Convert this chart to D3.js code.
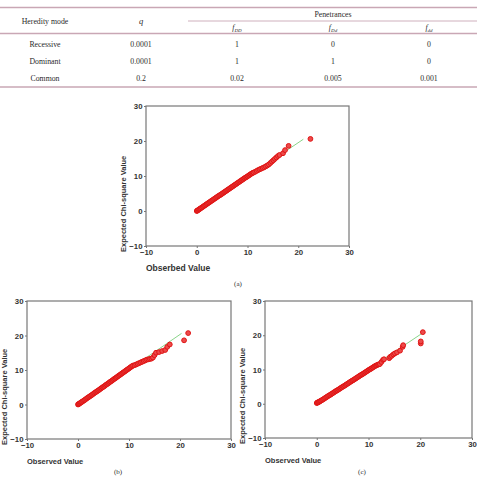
<!DOCTYPE html>
<html>
<head>
<meta charset="utf-8">
<script src="https://cdn.jsdelivr.net/npm/d3@7"></script>
<style>
  body { margin: 0; background: #fff; }
  svg { display: block; }
</style>
</head>
<body>
<script>
// table values
var columns = ["mode", "q", "fDD", "fDd", "fdd"];
var modes = ["Recessive", "Dominant", "Common"];
var qVals = ["0.0001", "0.0001", "0.2"];
var fDD = ["1", "1", "0.02"];
var fDd = ["0", "1", "0.005"];
var fdd = ["0", "0", "0.001"];

// axis ticks, same for all three plots
var ticks = [-10, 0, 10, 20, 30];

// [observed, expected] pairs
var qqA = [[0,0],[0.1,0.1],[0.2,0.2],[0.35,0.35],[0.5,0.5],[0.65,0.65],[0.8,0.8],[1,1],[1.2,1.2],[1.4,1.4],
  [1.6,1.6],[1.8,1.8],[2,2],[2.2,2.2],[2.4,2.4],[2.6,2.6],[2.8,2.8],[3,3],[3.2,3.2],[3.4,3.4],
  [3.6,3.6],[3.8,3.8],[4,4],[4.2,4.2],[4.4,4.4],[4.6,4.55],[4.8,4.75],[5,4.95],[5.2,5.15],[5.4,5.35],
  [5.6,5.55],[5.8,5.75],[6,5.95],[6.2,6.15],[6.4,6.35],[6.6,6.55],[6.8,6.75],[7,6.95],[7.2,7.15],[7.4,7.35],
  [7.6,7.55],[7.8,7.75],[8,7.95],[8.2,8.15],[8.4,8.35],[8.6,8.55],[8.8,8.75],[9,8.95],[9.2,9.15],[9.4,9.35],
  [9.6,9.55],[9.8,9.7],[10,9.9],[10.2,10.1],[10.4,10.3],[10.6,10.5],[10.8,10.7],[11,10.85],[11.2,11],[11.5,11.2],
  [11.8,11.45],[12.1,11.7],[12.4,11.9],[12.7,12.1],[13,12.3],[13.3,12.5],[13.6,12.75],[13.9,13],[14.2,13.3],[14.5,13.7],
  [14.8,14.1],[15.1,14.5],[15.4,14.9],[15.7,15.3],[16,15.7],[16.3,16],[17,16.5],[17.4,17.4],[18.1,18.6],[22.4,20.6]];
var qqB = [[0,0],[0.1,0.1],[0.2,0.2],[0.35,0.35],[0.5,0.5],[0.65,0.65],[0.8,0.8],[1,1],[1.2,1.2],[1.4,1.4],
  [1.6,1.65],[1.8,1.85],[2,2.05],[2.2,2.25],[2.4,2.45],[2.6,2.65],[2.8,2.85],[3,3.1],[3.2,3.3],[3.4,3.5],
  [3.6,3.7],[3.8,3.9],[4,4.1],[4.2,4.3],[4.4,4.55],[4.6,4.75],[4.8,4.95],[5,5.15],[5.2,5.35],[5.4,5.6],
  [5.6,5.8],[5.8,6],[6,6.2],[6.2,6.45],[6.4,6.65],[6.6,6.85],[6.8,7.05],[7,7.3],[7.2,7.5],[7.4,7.7],
  [7.6,7.9],[7.8,8.15],[8,8.35],[8.2,8.55],[8.4,8.75],[8.6,9],[8.8,9.2],[9,9.4],[9.2,9.6],[9.4,9.85],
  [9.6,10.05],[9.8,10.25],[10,10.45],[10.2,10.7],[10.4,10.9],[10.6,11.1],[10.8,11.3],[11.1,11.4],[11.4,11.6],[11.7,11.8],
  [12,12],[12.3,12.2],[12.6,12.4],[12.9,12.6],[13.2,12.8],[13.5,13],[13.8,13.1],[14.1,13.2],[14.4,13.3],[14.7,13.6],
  [15,14.3],[15.3,15],[15.9,15.2],[16.5,15.5],[17.1,15.8],[17.5,16.7],[18,17.4],[20.8,18.6],[21.6,20.7]];
var qqC = [[0,0.2],[0.1,0.3],[0.2,0.4],[0.35,0.5],[0.5,0.6],[0.65,0.75],[0.8,0.9],[1,1.05],[1.2,1.25],[1.4,1.45],
  [1.6,1.65],[1.8,1.85],[2,2.05],[2.2,2.25],[2.4,2.45],[2.6,2.6],[2.8,2.8],[3,3],[3.2,3.2],[3.4,3.4],
  [3.6,3.6],[3.8,3.8],[4,3.95],[4.2,4.15],[4.4,4.35],[4.6,4.55],[4.8,4.75],[5,4.95],[5.2,5.1],[5.4,5.3],
  [5.6,5.5],[5.8,5.7],[6,5.9],[6.2,6.1],[6.4,6.3],[6.6,6.5],[6.8,6.7],[7,6.85],[7.2,7.05],[7.4,7.25],
  [7.6,7.45],[7.8,7.65],[8,7.85],[8.2,8.05],[8.4,8.25],[8.6,8.45],[8.8,8.6],[9,8.8],[9.2,9],[9.4,9.2],
  [9.6,9.4],[9.8,9.6],[10,9.8],[10.2,10],[10.4,10.15],[10.6,10.35],[10.8,10.55],[11,10.75],[11.2,10.95],[11.4,11.1],
  [11.6,11.25],[11.8,11.4],[12,11.5],[12.2,11.6],[12.5,12.2],[12.8,12.8],[13,13],[14,13.3],[14.2,13.7],[14.5,14],
  [14.8,14.4],[15.1,14.7],[15.5,15],[16.1,15.5],[16.6,16.6],[16.7,17.1],[20.1,17.6],[20.1,18.2],[20.5,20.9]];

// reference lines [start, end]
var lineA = [[0, 0], [21, 20.5]];
var lineB = [[0, 0], [20.3, 20.6]];
var lineC = [[0, 0], [20.4, 20.6]];

var w = 477;
var h = 477;

var svg = d3.select("body")
    .append("svg")
    .attr("width", w)
    .attr("height", h)
    .attr("font-family", "'Liberation Sans', Arial, sans-serif");

svg.append("rect")
    .attr("width", w)
    .attr("height", h)
    .attr("fill", "#fff");

// ---- table ----
var lineColor = "#c9a7b5";
var textColor = "#2a2a2a";
var serif = "'Liberation Serif', 'DejaVu Serif', serif";

var col = d3.scaleBand()
    .domain(columns)
    .range([-3, 477]);
var cx = function(c) { return col(c) + col.bandwidth() / 2; };

var rowY = d3.scalePoint()
    .domain(modes)
    .range([44, 78]);

var tbl = svg.append("g")
    .attr("font-family", serif)
    .attr("font-size", 7.8)
    .attr("fill", textColor)
    .attr("text-anchor", "middle");

[7.5, 33.5, 87].forEach(function(y) {
    tbl.append("line")
        .attr("x1", 0).attr("x2", w)
        .attr("y1", y).attr("y2", y)
        .attr("stroke", lineColor)
        .attr("stroke-width", 1.3);
});
tbl.append("line")
    .attr("x1", 188).attr("x2", w)
    .attr("y1", 21).attr("y2", 21)
    .attr("stroke", lineColor)
    .attr("stroke-width", 0.9);

tbl.append("text").attr("x", cx("mode")).attr("y", 23.5).text("Heredity mode");
tbl.append("text").attr("x", cx("q")).attr("y", 23.5)
    .attr("font-style", "italic").attr("font-size", 8.5).text("q");
tbl.append("text").attr("x", cx("fDd")).attr("y", 16.5).text("Penetrances");

var fHead = [["fDD", "DD"], ["fDd", "Dd"], ["fdd", "dd"]];
fHead.forEach(function(p) {
    var t = tbl.append("text").attr("x", cx(p[0])).attr("y", 30);
    t.append("tspan").attr("font-style", "italic").text("f");
    t.append("tspan").attr("font-style", "italic").attr("font-size", 5)
        .attr("dy", 1.5).text(p[1]);
});

var rowCols = [["mode", modes], ["q", qVals], ["fDD", fDD], ["fDd", fDd], ["fdd", fdd]];
rowCols.forEach(function(rc) {
    tbl.selectAll(null)
        .data(rc[1])
        .enter()
        .append("text")
        .attr("x", cx(rc[0]))
        .attr("y", function(d, i) { return rowY(modes[i]) + 2.5; })
        .text(function(d) { return d; });
});

// ---- QQ plots ----
function drawPlot(cfg) {
    var x = d3.scaleLinear().domain([-10, 30]).range([cfg.left, cfg.right]);
    var y = d3.scaleLinear().domain([-10, 30]).range([cfg.bottom, cfg.top]);
    var g = svg.append("g");

    // frame
    g.append("rect")
        .attr("x", cfg.left)
        .attr("y", cfg.top)
        .attr("width", cfg.right - cfg.left)
        .attr("height", cfg.bottom - cfg.top)
        .attr("fill", "none")
        .attr("stroke", "#777")
        .attr("stroke-width", 1.2);

    var xAxis = g.append("g")
        .attr("transform", "translate(0," + cfg.bottom + ")")
        .call(d3.axisBottom(x).tickValues(ticks).tickSize(2).tickPadding(1.5));
    var yAxis = g.append("g")
        .attr("transform", "translate(" + cfg.left + ",0)")
        .call(d3.axisLeft(y).tickValues(ticks).tickSize(2).tickPadding(1.5));
    [xAxis, yAxis].forEach(function(a) {
        a.select(".domain").remove();
        a.selectAll("line").attr("stroke", "#777");
        a.selectAll("text")
            .attr("font-family", "'Liberation Sans', Arial, sans-serif")
            .attr("font-weight", "bold")
            .attr("font-size", 7.8)
            .attr("fill", "#333");
    });

    // reference line
    g.append("line")
        .attr("x1", x(cfg.line[0][0])).attr("y1", y(cfg.line[0][1]))
        .attr("x2", x(cfg.line[1][0])).attr("y2", y(cfg.line[1][1]))
        .attr("stroke", "#7ccf7c")
        .attr("stroke-width", 0.9);

    g.selectAll("circle")
        .data(cfg.data)
        .enter()
        .append("circle")
        .attr("cx", function(d) { return x(d[0]); })
        .attr("cy", function(d) { return y(d[1]); })
        .attr("r", 2.4)
        .attr("fill", "#ec4a4a")
        .attr("stroke", "#e01414")
        .attr("stroke-width", 1);

    g.append("text")
        .attr("transform", "translate(" + (cfg.left - 20) + "," + (cfg.bottom + 6) + ") rotate(-90)")
        .attr("font-weight", "bold")
        .attr("font-size", 7.5)
        .attr("fill", "#333")
        .text("Expected Chi-square Value");

    g.append("text")
        .attr("x", cfg.left)
        .attr("y", cfg.bottom + 25)
        .attr("font-weight", "bold")
        .attr("font-size", cfg.labelSize)
        .attr("fill", "#333")
        .text(cfg.xLabel);

    g.append("text")
        .attr("x", cfg.capX)
        .attr("y", cfg.capY)
        .attr("text-anchor", "middle")
        .attr("font-family", serif)
        .attr("font-size", 7)
        .attr("fill", textColor)
        .text(cfg.caption);
}

drawPlot({ left: 146, right: 349, top: 106, bottom: 246, data: qqA, line: lineA,
    xLabel: "Obserbed Value", labelSize: 8.5, caption: "(a)", capX: 238, capY: 286 });
drawPlot({ left: 27, right: 231, top: 301, bottom: 439, data: qqB, line: lineB,
    xLabel: "Observed Value", labelSize: 7.5, caption: "(b)", capX: 118, capY: 474 });
drawPlot({ left: 265, right: 472, top: 301, bottom: 438, data: qqC, line: lineC,
    xLabel: "Observed Value", labelSize: 7.5, caption: "(c)", capX: 362, capY: 474 });
</script>
</body>
</html>
